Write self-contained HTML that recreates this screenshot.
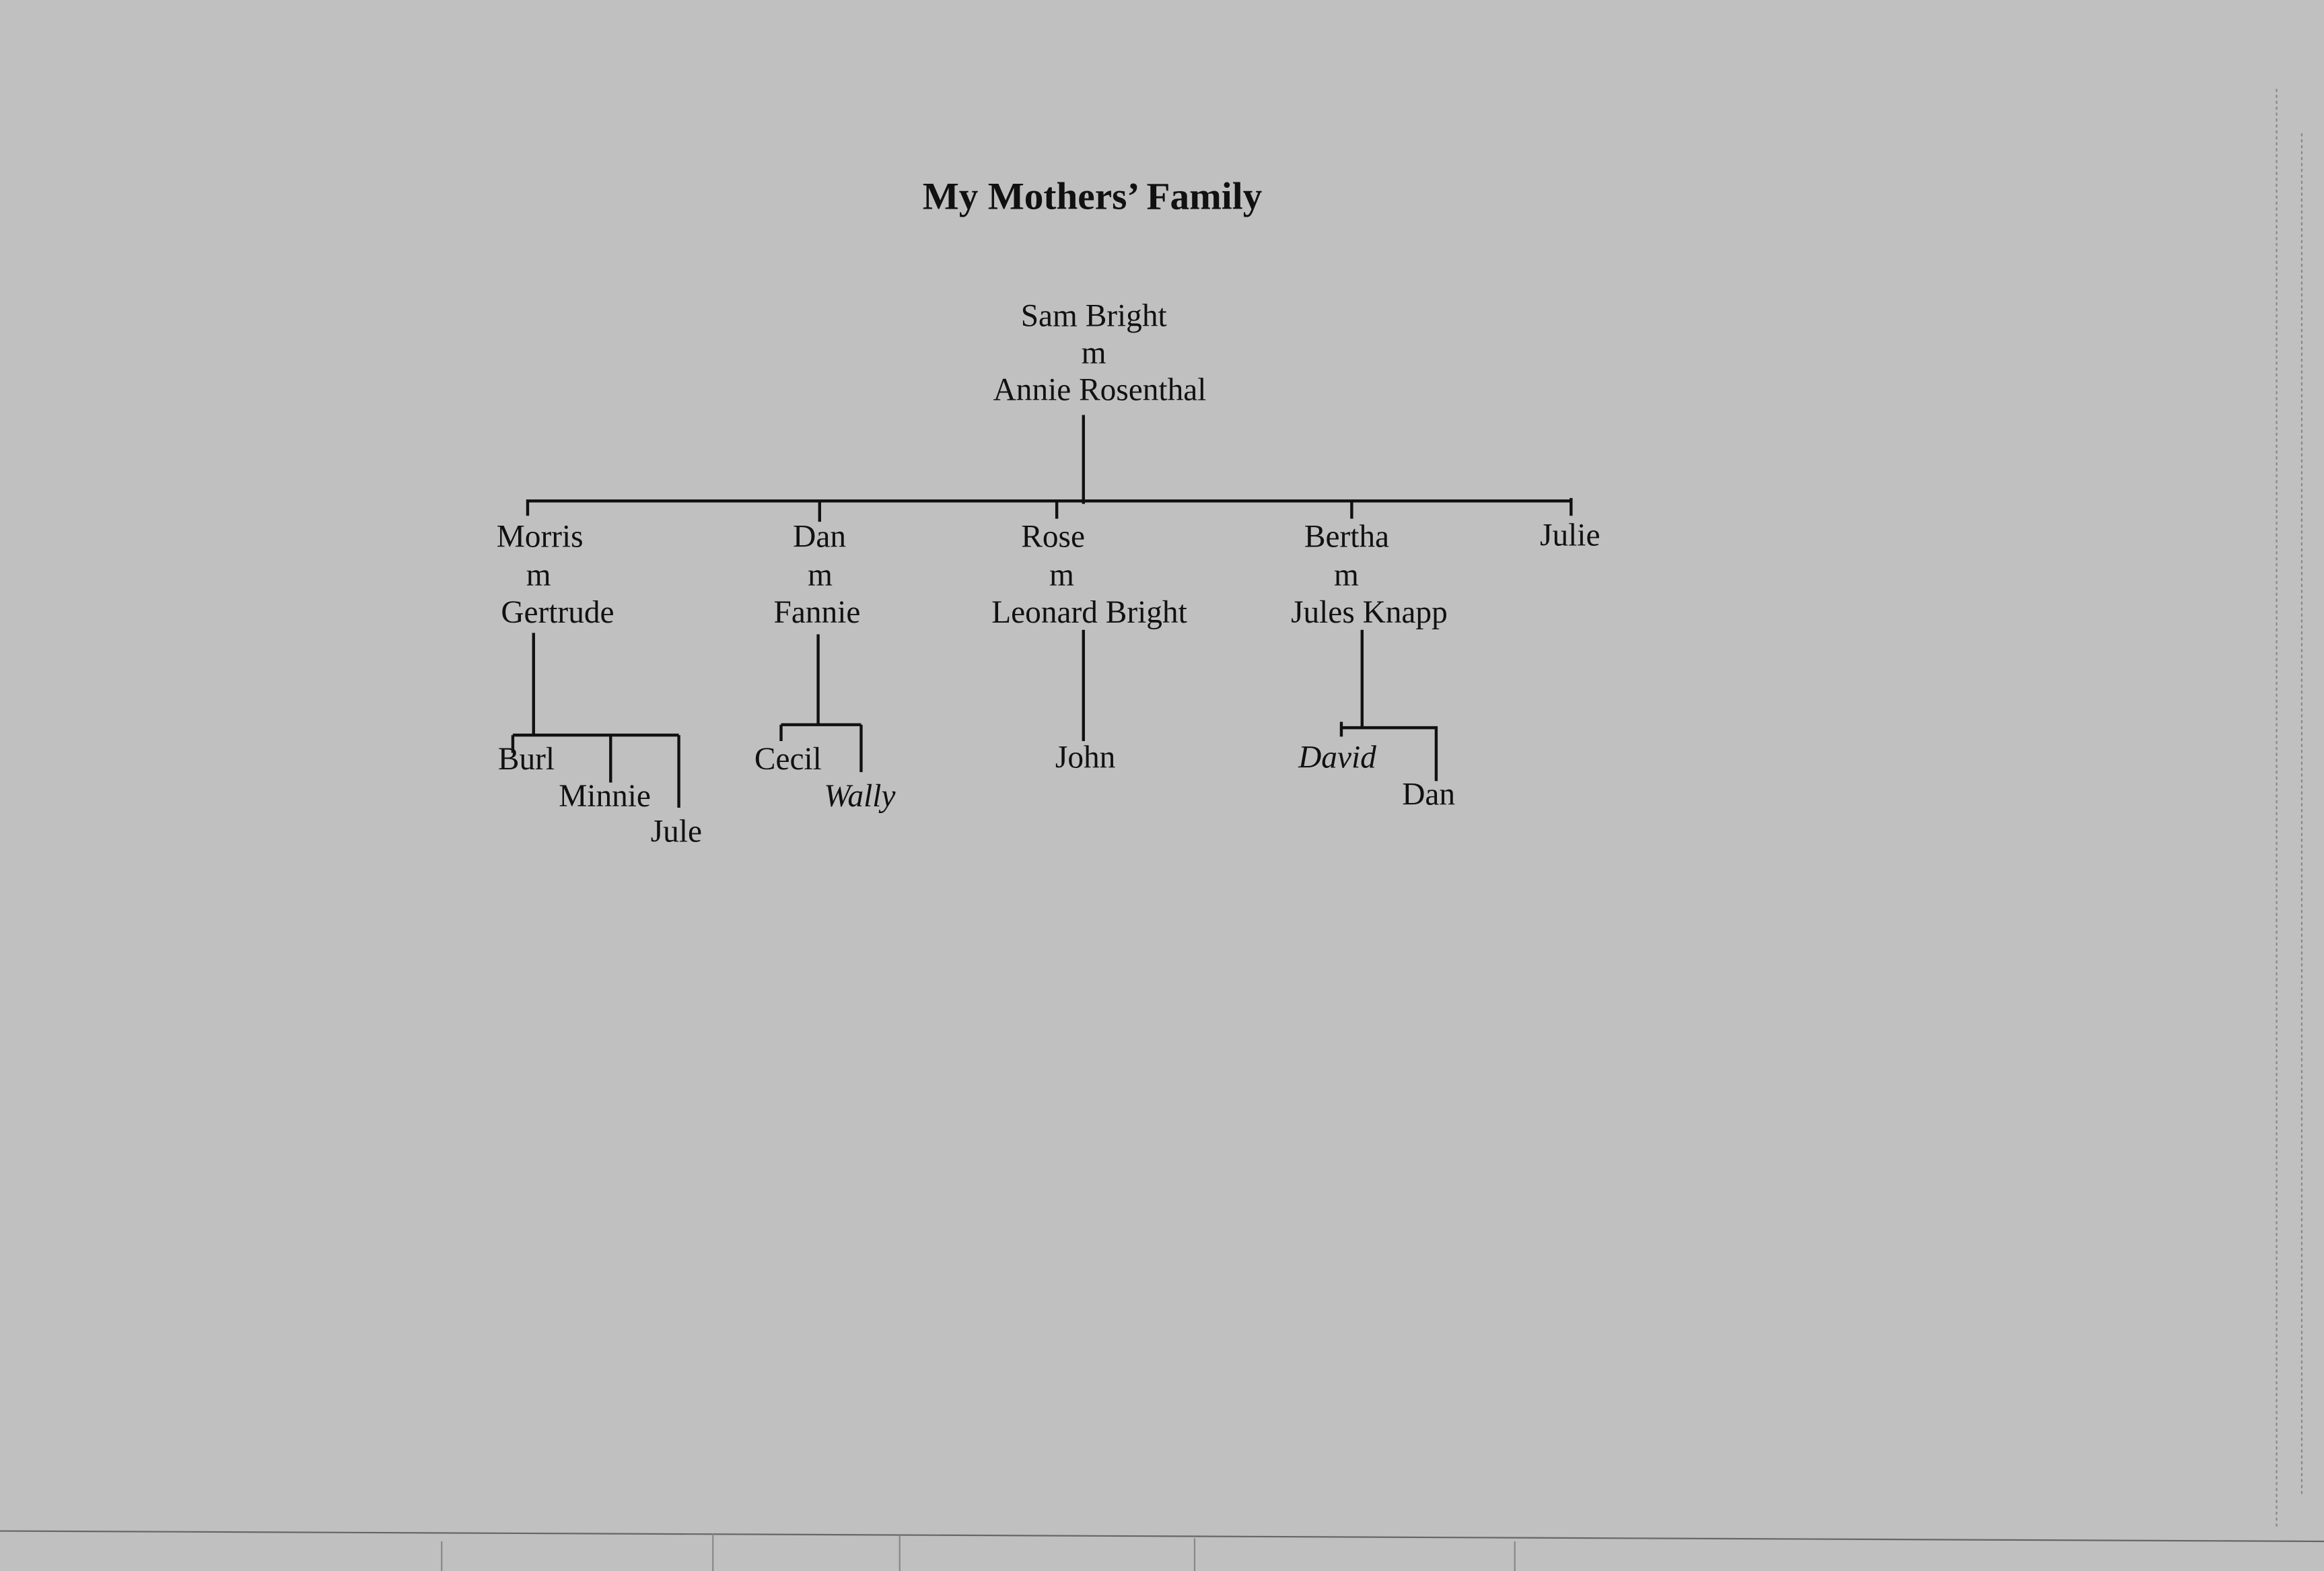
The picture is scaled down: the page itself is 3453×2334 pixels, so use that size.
<!DOCTYPE html>
<html><head><meta charset="utf-8"><style>
html,body{margin:0;padding:0;background:#c0c0c0;}
svg{display:block;}
text{font-family:"Liberation Serif",serif;font-size:21.5px;fill:#111;}
</style></head><body>
<svg width="3453" height="2334" viewBox="0 0 1568 1060" preserveAspectRatio="none" xmlns="http://www.w3.org/2000/svg">
<rect width="1568" height="1060" fill="#c0c0c0"/>
<text x="737" y="141" text-anchor="middle" style="font-weight:bold;font-size:26px">My Mothers’ Family</text>
<g>
<text x="738" y="220" text-anchor="middle">Sam Bright</text>
<text x="738" y="245" text-anchor="middle">m</text>
<text x="742" y="270" text-anchor="middle">Annie Rosenthal</text>

<text x="335" y="369">Morris</text>
<text x="355" y="395">m</text>
<text x="338" y="420">Gertrude</text>
<text x="535" y="369">Dan</text>
<text x="545" y="395">m</text>
<text x="522" y="420">Fannie</text>
<text x="689" y="369">Rose</text>
<text x="708" y="395">m</text>
<text x="669" y="420">Leonard Bright</text>
<text x="880" y="369">Bertha</text>
<text x="900" y="395">m</text>
<text x="871" y="420">Jules Knapp</text>
<text x="1039" y="368">Julie</text>

<text x="336" y="519">Burl</text>
<text x="377" y="544">Minnie</text>
<text x="439" y="568">Jule</text>
<text x="509" y="519">Cecil</text>
<text x="556" y="544" font-style="italic">Wally</text>
<text x="712" y="518">John</text>
<text x="876" y="518" font-style="italic">David</text>
<text x="946" y="543">Dan</text>
</g>
<g stroke="#111" stroke-width="2" fill="none">
<path d="M731 280V340"/>
<path d="M356 338H1060"/>
<path d="M356 337V348M553 337V352M713 337V350M912 337V350M1060 336V348"/>
<path d="M360 427V496M346 496H458M346 496V508M412 496V528M458 496V545"/>
<path d="M552 428V489M527 489H581M527 489V500M581 489V521"/>
<path d="M731 425V500"/>
<path d="M919 425V491M905 491H970M905 487V497M969 491V527"/>
</g>
<g stroke="#888" stroke-width="1" fill="none">
<path d="M0 1033L1568 1040" stroke="#666"/>
<path d="M1536 60V1030M1553 90V1010" stroke-dasharray="2 2"/>
<path d="M298 1040V1060M481 1035V1060M607 1036V1060M806 1038V1060M1022 1040V1060"/>
</g>
</svg>
</body></html>
